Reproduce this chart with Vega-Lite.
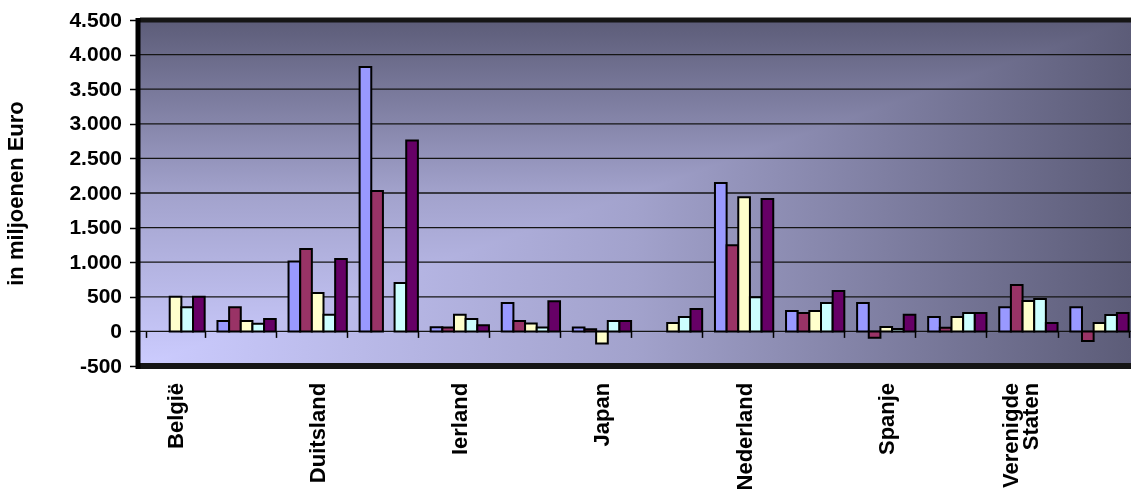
{
  "$schema": "https://vega.github.io/schema/vega-lite/v6.json",
  "width": 991,
  "height": 346,
  "autosize": {"type": "none"},
  "padding": {"left": 140, "top": 20, "right": 0, "bottom": 130},
  "background": "white",
  "config": {"view": {"stroke": null}, "font": "Liberation Sans"},
  "datasets": {
    "bars": [
      {"land": "België", "jaar": "2002", "waarde": 500},
      {"land": "België", "jaar": "2003", "waarde": 350},
      {"land": "België", "jaar": "2004", "waarde": 500},
      {"land": "Canada", "jaar": "2000", "waarde": 150},
      {"land": "Canada", "jaar": "2001", "waarde": 350},
      {"land": "Canada", "jaar": "2002", "waarde": 150},
      {"land": "Canada", "jaar": "2003", "waarde": 110},
      {"land": "Canada", "jaar": "2004", "waarde": 180},
      {"land": "Duitsland", "jaar": "2000", "waarde": 1010},
      {"land": "Duitsland", "jaar": "2001", "waarde": 1190},
      {"land": "Duitsland", "jaar": "2002", "waarde": 555},
      {"land": "Duitsland", "jaar": "2003", "waarde": 240},
      {"land": "Duitsland", "jaar": "2004", "waarde": 1045},
      {"land": "Frankrijk", "jaar": "2000", "waarde": 3820},
      {"land": "Frankrijk", "jaar": "2001", "waarde": 2030},
      {"land": "Frankrijk", "jaar": "2003", "waarde": 700},
      {"land": "Frankrijk", "jaar": "2004", "waarde": 2760},
      {"land": "Ierland", "jaar": "2000", "waarde": 60},
      {"land": "Ierland", "jaar": "2001", "waarde": 55},
      {"land": "Ierland", "jaar": "2002", "waarde": 240},
      {"land": "Ierland", "jaar": "2003", "waarde": 180},
      {"land": "Ierland", "jaar": "2004", "waarde": 90},
      {"land": "Italië", "jaar": "2000", "waarde": 410},
      {"land": "Italië", "jaar": "2001", "waarde": 150},
      {"land": "Italië", "jaar": "2002", "waarde": 115},
      {"land": "Italië", "jaar": "2003", "waarde": 55},
      {"land": "Italië", "jaar": "2004", "waarde": 435},
      {"land": "Japan", "jaar": "2000", "waarde": 58},
      {"land": "Japan", "jaar": "2001", "waarde": 30},
      {"land": "Japan", "jaar": "2002", "waarde": -175},
      {"land": "Japan", "jaar": "2003", "waarde": 150},
      {"land": "Japan", "jaar": "2004", "waarde": 150},
      {"land": "Luxemburg", "jaar": "2002", "waarde": 120},
      {"land": "Luxemburg", "jaar": "2003", "waarde": 207},
      {"land": "Luxemburg", "jaar": "2004", "waarde": 322},
      {"land": "Nederland", "jaar": "2000", "waarde": 2145},
      {"land": "Nederland", "jaar": "2001", "waarde": 1245},
      {"land": "Nederland", "jaar": "2002", "waarde": 1940},
      {"land": "Nederland", "jaar": "2003", "waarde": 495},
      {"land": "Nederland", "jaar": "2004", "waarde": 1915},
      {"land": "Noorwegen", "jaar": "2000", "waarde": 295},
      {"land": "Noorwegen", "jaar": "2001", "waarde": 265},
      {"land": "Noorwegen", "jaar": "2002", "waarde": 295},
      {"land": "Noorwegen", "jaar": "2003", "waarde": 410},
      {"land": "Noorwegen", "jaar": "2004", "waarde": 585},
      {"land": "Spanje", "jaar": "2000", "waarde": 410},
      {"land": "Spanje", "jaar": "2001", "waarde": -90},
      {"land": "Spanje", "jaar": "2002", "waarde": 63},
      {"land": "Spanje", "jaar": "2003", "waarde": 34},
      {"land": "Spanje", "jaar": "2004", "waarde": 240},
      {"land": "Verenigd Koninkrijk", "jaar": "2000", "waarde": 207},
      {"land": "Verenigd Koninkrijk", "jaar": "2001", "waarde": 53},
      {"land": "Verenigd Koninkrijk", "jaar": "2002", "waarde": 207},
      {"land": "Verenigd Koninkrijk", "jaar": "2003", "waarde": 265},
      {"land": "Verenigd Koninkrijk", "jaar": "2004", "waarde": 265},
      {"land": "Verenigde Staten", "jaar": "2000", "waarde": 350},
      {"land": "Verenigde Staten", "jaar": "2001", "waarde": 670},
      {"land": "Verenigde Staten", "jaar": "2002", "waarde": 438},
      {"land": "Verenigde Staten", "jaar": "2003", "waarde": 467},
      {"land": "Verenigde Staten", "jaar": "2004", "waarde": 120},
      {"land": "Zwitserland", "jaar": "2000", "waarde": 350},
      {"land": "Zwitserland", "jaar": "2001", "waarde": -140},
      {"land": "Zwitserland", "jaar": "2002", "waarde": 120},
      {"land": "Zwitserland", "jaar": "2003", "waarde": 236},
      {"land": "Zwitserland", "jaar": "2004", "waarde": 265}
    ],
    "grid": [
      {"v": -500}, {"v": 0}, {"v": 500}, {"v": 1000}, {"v": 1500},
      {"v": 2000}, {"v": 2500}, {"v": 3000}, {"v": 3500}, {"v": 4000}, {"v": 4500}
    ]
  },
  "layer": [
    {
      "data": {"values": [{"top": 4500, "bottom": -500}]},
      "mark": {
        "type": "rect",
        "fill": {
          "gradient": "linear", "x1": 0, "y1": 1, "x2": 0, "y2": 0,
          "stops": [
            {"offset": 0, "color": "#CCCCFF"},
            {"offset": 0.5, "color": "#A2A2CC"},
            {"offset": 1, "color": "#5C5C78"}
          ]
        }
      },
      "encoding": {
        "y": {"field": "top", "type": "quantitative", "scale": {"domain": [-500, 4500], "nice": false, "zero": false}, "title": "in miljoenen Euro",
          "axis": {"values": [-500, 0, 500, 1000, 1500, 2000, 2500, 3000, 3500, 4000, 4500], "labelExpr": "(datum.value < 0 ? '-' : '') + replace(format(abs(datum.value), ','), ',', '.')", "labelFont": "Liberation Sans", "labelFontSize": 21, "labelFontWeight": "bold", "labelColor": "black", "labelPadding": 8, "tickSize": 8, "tickColor": "black", "tickWidth": 1.5, "domain": true, "domainColor": "black", "domainWidth": 5, "domainCap": "square", "offset": 2.5, "grid": false, "zindex": 1, "titleFont": "Liberation Sans", "titleFontSize": 22, "titleFontWeight": "bold", "titleColor": "black", "titlePadding": 41}},
        "y2": {"field": "bottom"}
      }
    },
    {
      "data": {"values": [{"top": 4500, "bottom": -500}]},
      "mark": {
        "type": "rect",
        "blend": "darken",
        "fill": {
          "gradient": "linear", "x1": 0, "y1": 0, "x2": 1, "y2": 0,
          "stops": [
            {"offset": 0, "color": "#CCCCFF"},
            {"offset": 0.5, "color": "#A2A2CC"},
            {"offset": 1, "color": "#5C5C78"}
          ]
        }
      },
      "encoding": {
        "y": {"field": "top", "type": "quantitative", "scale": {"domain": [-500, 4500], "nice": false, "zero": false}, "title": "in miljoenen Euro",
          "axis": {"values": [-500, 0, 500, 1000, 1500, 2000, 2500, 3000, 3500, 4000, 4500], "labelExpr": "(datum.value < 0 ? '-' : '') + replace(format(abs(datum.value), ','), ',', '.')", "labelFont": "Liberation Sans", "labelFontSize": 21, "labelFontWeight": "bold", "labelColor": "black", "labelPadding": 8, "tickSize": 8, "tickColor": "black", "tickWidth": 1.5, "domain": true, "domainColor": "black", "domainWidth": 5, "domainCap": "square", "offset": 2.5, "grid": false, "zindex": 1, "titleFont": "Liberation Sans", "titleFontSize": 22, "titleFontWeight": "bold", "titleColor": "black", "titlePadding": 41}},
        "y2": {"field": "bottom"}
      }
    },
    {
      "data": {"name": "grid"},
      "mark": {"type": "rule", "color": "#151515"},
      "encoding": {
        "y": {"field": "v", "type": "quantitative", "scale": {"domain": [-500, 4500], "nice": false, "zero": false}, "title": "in miljoenen Euro",
          "axis": {"values": [-500, 0, 500, 1000, 1500, 2000, 2500, 3000, 3500, 4000, 4500], "labelExpr": "(datum.value < 0 ? '-' : '') + replace(format(abs(datum.value), ','), ',', '.')", "labelFont": "Liberation Sans", "labelFontSize": 21, "labelFontWeight": "bold", "labelColor": "black", "labelPadding": 8, "tickSize": 8, "tickColor": "black", "tickWidth": 1.5, "domain": true, "domainColor": "black", "domainWidth": 5, "domainCap": "square", "offset": 2.5, "grid": false, "zindex": 1, "titleFont": "Liberation Sans", "titleFontSize": 22, "titleFontWeight": "bold", "titleColor": "black", "titlePadding": 41}},
        "strokeWidth": {"condition": [{"test": "datum.v == 4500", "value": 5}, {"test": "datum.v == -500", "value": 6}], "value": 1.3}
      }
    },
    {
      "data": {"name": "bars"},
      "mark": {"type": "bar", "stroke": "black", "strokeWidth": 2},
      "encoding": {
        "x": {"field": "land", "type": "nominal", "sort": null,
          "scale": {"range": [0, 995], "paddingInner": 0.18, "paddingOuter": 0.09},
          "axis": {"title": null, "orient": "bottom", "offset": -34.6, "domain": false, "grid": false, "ticks": true, "tickBand": "extent", "tickSize": 6, "tickColor": "black", "tickWidth": 1.5, "labelAngle": -90, "labelPadding": 45, "labelFont": "Liberation Sans", "labelFontSize": 22, "labelFontWeight": "bold", "labelColor": "black", "labelLineHeight": 20, "labelOverlap": false, "labelLimit": 300, "zindex": 1,
            "labelOffset": {"condition": {"test": "datum.value == 'Verenigde Staten'", "value": -18}, "value": 0},
            "labelExpr": "datum.value == 'Verenigde Staten' ? ['Verenigde', 'Staten'] : (indexof(['België', 'Duitsland', 'Ierland', 'Japan', 'Nederland', 'Spanje'], datum.value) >= 0 ? datum.value : '')"}},
        "xOffset": {"field": "jaar", "type": "nominal", "sort": ["2000", "2001", "2002", "2003", "2004"], "scale": {"domain": ["2000", "2001", "2002", "2003", "2004"], "paddingInner": 0, "paddingOuter": 0}},
        "y": {"field": "waarde", "type": "quantitative", "scale": {"domain": [-500, 4500], "nice": false, "zero": false}, "title": "in miljoenen Euro",
          "axis": {"values": [-500, 0, 500, 1000, 1500, 2000, 2500, 3000, 3500, 4000, 4500], "labelExpr": "(datum.value < 0 ? '-' : '') + replace(format(abs(datum.value), ','), ',', '.')", "labelFont": "Liberation Sans", "labelFontSize": 21, "labelFontWeight": "bold", "labelColor": "black", "labelPadding": 8, "tickSize": 8, "tickColor": "black", "tickWidth": 1.5, "domain": true, "domainColor": "black", "domainWidth": 5, "domainCap": "square", "offset": 2.5, "grid": false, "zindex": 1, "titleFont": "Liberation Sans", "titleFontSize": 22, "titleFontWeight": "bold", "titleColor": "black", "titlePadding": 41}},
        "color": {"field": "jaar", "type": "nominal", "legend": null,
          "scale": {"domain": ["2000", "2001", "2002", "2003", "2004"], "range": ["#9999FF", "#993366", "#FFFFCC", "#CCFFFF", "#660066"]}}
      }
    }
  ]
}
